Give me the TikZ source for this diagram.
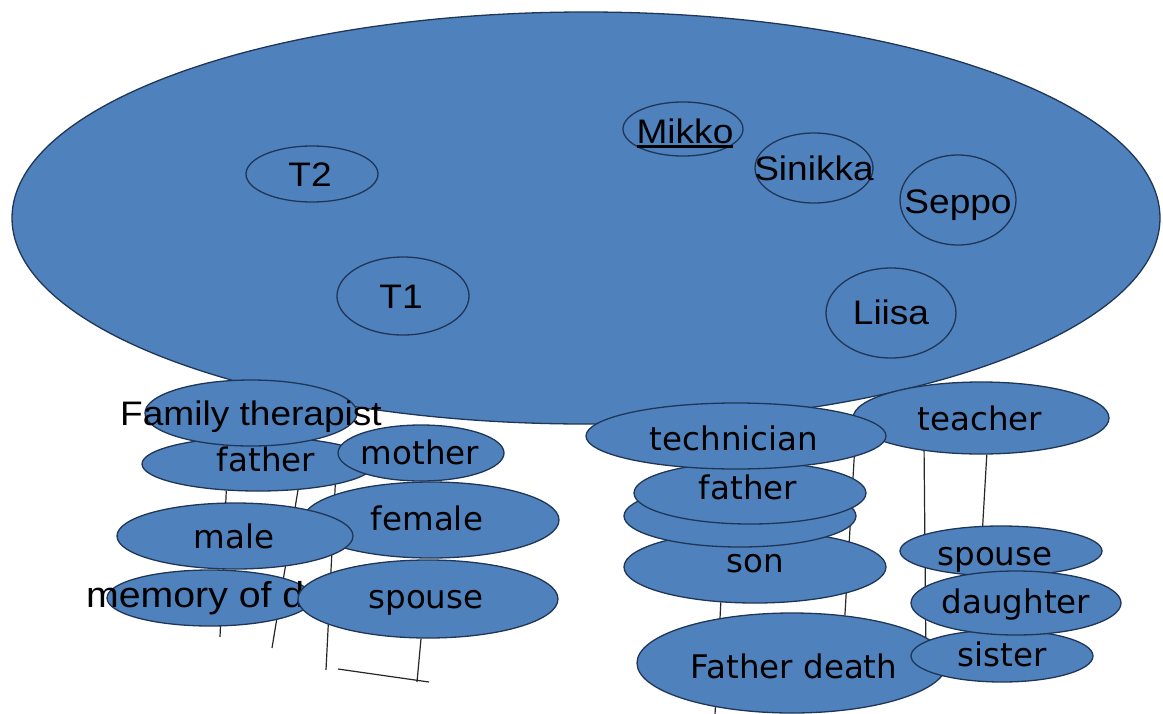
\documentclass[tikz,border=0pt]{standalone}
\usepackage{fontspec}
\setmainfont{Liberation Sans}
\newfontfamily\arialw[FakeStretch=1.09]{Liberation Sans}
\newfontfamily\verd{DejaVu Sans}
\usetikzlibrary{shapes.geometric}
\definecolor{fillb}{HTML}{4F81BD}
\definecolor{edgeb}{HTML}{1F3656}
\newcommand\thickul[1]{\vtop{\hbox{#1}\kern1.5pt\hrule height 2.8pt}}
\pgfdeclarelayer{back}
\pgfdeclarelayer{mid}
\pgfsetlayers{back,mid,main}
\begin{document}
\begin{tikzpicture}[x=1pt,y=-1pt,
  ell/.style 2 args={ellipse, draw=edgeb, fill=fillb, line width=1.3pt, inner sep=0pt,
    minimum width=2*#1, minimum height=2*#2},
  txta/.style={font=\arialw\fontsize{34}{40}\selectfont, anchor=base, inner sep=0pt, text=black},
  txtb/.style={font=\verd\fontsize{32.5}{38}\selectfont, anchor=base, inner sep=0pt, text=black},
  conn/.style={draw=black!85, line width=1.2pt}]
\useasboundingbox (0,0) rectangle (1163,713);

% big ellipse and its members
\begin{pgfonlayer}{back}
\node[ell={574}{206}] (big) at (586,218) {};
\end{pgfonlayer}
\node[ell={66}{28}] (t2) at (312,174) {};
\node[txta] (t2t) at (310,186) {T2};
\node[ell={66}{39}] (t1) at (403,296) {};
\node[txta] (t1t) at (401,308) {T1};
\node[ell={60}{27}] (mikko) at (683,129) {};
\node[txta] (mikkot) at (685,143) {\thickul{Mikko}};
\node[ell={59}{35}] (sinikka) at (814,168) {};
\node[txta] (sinikkat) at (814,180) {Sinikka};
\node[ell={58}{45}] (seppo) at (958,200) {};
\node[txta] (seppot) at (958,213) {Seppo};
\node[ell={65}{45}] (liisa) at (891,313) {};
\node[txta] (liisat) at (891,324) {Liisa};

% ---------- left group ----------
\node[ell={116}{27}] (fatherL) at (258,464) {};
\node[txtb] (fatherLt) at (266,471) {father};
\node[ell={106}{33}] (ft) at (251,413) {};
\node[txta] (ftt) at (251,425) {Family therapist};
\node[ell={83}{28}] (mother) at (421,453) {};
\node[txtb] (mothert) at (420,464) {mother};
\node[ell={128}{38}] (female) at (431,520) {};
\node[txtb] (femalet) at (427,530) {female};
\node[ell={118}{33}] (male) at (235,536) {};
\node[txtb] (malet) at (234,548) {male};
\node[ell={103}{28}] (memory) at (210,598) {};
\node[txta, font=\arialw\fontsize{36}{40}\selectfont, anchor=base west] (memoryt) at (86,607) {memory of d};
\node[ell={130}{39}] (spouseL) at (428,599) {};
\node[txtb] (spouseLt) at (426,608) {spouse};

\coordinate (e1) at (220,637);
\coordinate (e2) at (272,648);
\coordinate (e3) at (326,670);
\coordinate (e4) at (417,682);
\coordinate (h1) at (338,669);
\coordinate (h2) at (429,682);

% ---------- right group ----------
\node[ell={128}{36}] (teacher) at (981,418) {};
\node[txtb] (teachert) at (980,430) {teacher};
\node[ell={131}{36}] (son) at (755,567) {};
\node[txtb] (sont) at (755,572) {son};
\node[ell={116}{31}] (hidden) at (740,516) {};
\node[ell={116}{31}] (fatherR) at (750,493) {};
\node[txtb] (fatherRt) at (748,499) {father};
\node[ell={150}{33}] (tech) at (736,436) {};
\node[txtb] (techt) at (734,450) {technician};
\node[ell={155}{50}] (fdeath) at (792,663) {};
\node[txtb] (fdeatht) at (794,678) {Father death};
\node[ell={91}{26}] (sister) at (1002,656) {};
\node[txtb] (sistert) at (1002,666) {sister};
\node[ell={101}{25}] (spouseR) at (1001,551) {};
\node[txtb] (spouseRt) at (995,565) {spouse};
\node[ell={105}{32}] (daughter) at (1016,603) {};
\node[txtb] (daughtert) at (1016,613) {daughter};
\coordinate (e5) at (715,715);

% connectors, behind the ellipses
\begin{pgfonlayer}{mid}
\draw[conn] (fatherL.220) -- (e1);
\draw[conn] (fatherL.327.7) -- (e2);
\draw[conn] (fatherL.345.3) -- (e3);
\draw[conn] (spouseL.260) -- (e4);
\draw[conn] (h1) -- (h2);
\draw[conn] (tech.350.8) -- (fdeath.42.8);
\draw[conn] (son.226.5) -- (e5);
\draw[conn] (teacher.210.6) -- (sister.169.3);
\draw[conn] (teacher.279.5) -- (spouseR.126.2);
\end{pgfonlayer}
\end{tikzpicture}
\end{document}
